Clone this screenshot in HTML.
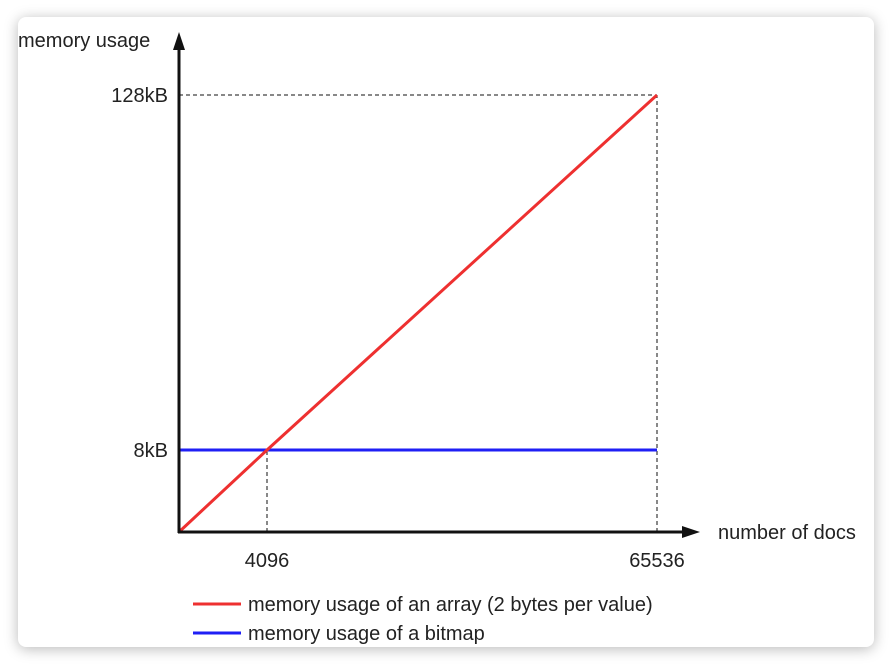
<!DOCTYPE html>
<html><head><meta charset="utf-8"><style>
html,body{margin:0;padding:0;background:#fff;}
#card{position:absolute;left:18px;top:17px;width:856px;height:630px;background:#fff;border-radius:8px;box-shadow:0 2px 14px rgba(0,0,0,0.28);}
svg{position:absolute;left:0;top:0;}
text{font-family:"Liberation Sans",sans-serif;fill:#222;}
</style></head><body>
<div id="card"></div>
<svg id="chart" width="892" height="666"></svg>
<script>
const xTicks = [0, 4096, 65536];
const xTickLabels = ['', '4096', '65536'];
const yTicks = [0, 8, 128];
const yTickLabels = ['', '8kB', '128kB'];
const arrayX = [0, 4096, 65536];
const arrayY = [0, 8, 128];
const bitmapX = [0, 65536];
const bitmapY = [8, 8];
const xPix = [179, 267, 657];
const yPix = [532, 450, 95];
function interp(v, dom, rng){
  for(let i=0;i<dom.length-1;i++){
    if(v<=dom[i+1]||i===dom.length-2){
      return rng[i]+(v-dom[i])/(dom[i+1]-dom[i])*(rng[i+1]-rng[i]);
    }
  }
}
function sx(v){return interp(v,xTicks,xPix);}
function sy(v){return interp(v,yTicks,yPix);}
const svg=document.getElementById('chart');
const NS='http://www.w3.org/2000/svg';
function mk(tag,attrs,parent){const e=document.createElementNS(NS,tag);for(const k in attrs)e.setAttribute(k,attrs[k]);(parent||svg).appendChild(e);return e;}
for(let i=1;i<xTicks.length;i++){
  const g=mk('line',{x1:sx(xTicks[i]),y1:sy(0),x2:sx(xTicks[i]),y2:sy(arrayY[i]),stroke:'#111','stroke-width':1,'stroke-dasharray':'4,3'});
  
  
  const t=mk('text',{x:sx(xTicks[i]),y:567,'font-size':20,'text-anchor':'middle'});
  t.textContent=xTickLabels[i];
  
  
}
for(let i=1;i<yTicks.length;i++){
  const g=mk('line',{x1:sx(0),y1:sy(yTicks[i]),x2:sx(arrayX[i]),y2:sy(yTicks[i]),stroke:'#111','stroke-width':1,'stroke-dasharray':'4,3'});
  
  
  const t=mk('text',{x:168,y:sy(yTicks[i])+7,'font-size':20,'text-anchor':'end'});
  t.textContent=yTickLabels[i];
  
  
}
function pts(xs,ys){return xs.map((x,i)=>sx(x)+','+sy(ys[i])).join(' ');}
const b=mk('polyline',{points:pts(bitmapX,bitmapY),fill:'none',stroke:'#1f1ff5','stroke-width':3});


const r=mk('polyline',{points:pts(arrayX,arrayY),fill:'none',stroke:'#ee3030','stroke-width':3});


const ya=mk('line',{x1:179,y1:533,x2:179,y2:48,stroke:'#111','stroke-width':3});


const yarr=mk('polygon',{points:'179,32 173,50 185,50',fill:'#111'});


const xa=mk('line',{x1:178,y1:532,x2:684,y2:532,stroke:'#111','stroke-width':3});


const xarr=mk('polygon',{points:'700,532 682,526 682,538',fill:'#111'});


const yt=mk('text',{x:18,y:47,'font-size':20});
yt.textContent='memory usage';


const xt=mk('text',{x:718,y:539,'font-size':20});
xt.textContent='number of docs';


const leg=[['#ee3030','memory usage of an array (2 bytes per value)',604],['#1f1ff5','memory usage of a bitmap',633]];
leg.forEach((l,i)=>{
  const g=mk('g',{});
  
  
  mk('line',{x1:193,y1:l[2],x2:241,y2:l[2],stroke:l[0],'stroke-width':3},g);
  const t=mk('text',{x:248,y:l[2]+7,'font-size':20},g);
  t.textContent=l[1];
});
</script>
</body></html>
